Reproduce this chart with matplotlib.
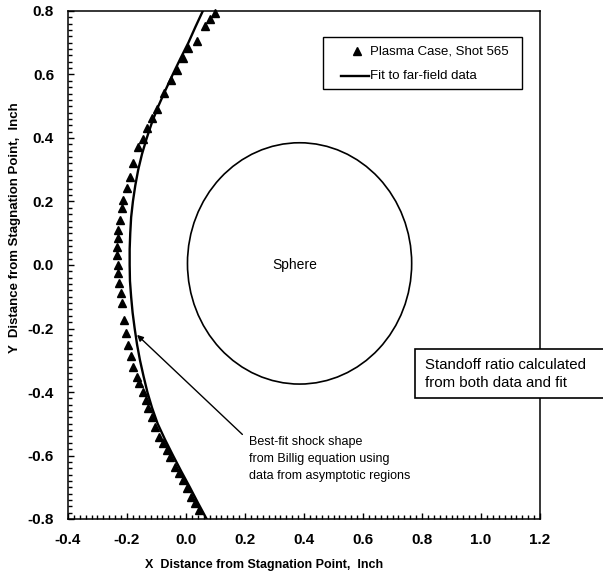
import matplotlib
matplotlib.use("Agg")
import matplotlib.pyplot as plt
from matplotlib.patches import Rectangle, Circle
from matplotlib.lines import Line2D
from matplotlib.ticker import MultipleLocator

plt.rcParams['font.family'] = ['Liberation Sans', 'DejaVu Sans']

# shock data points (Plasma Case, Shot 565)
data_x = [0.098, 0.081, 0.064, 0.036, 0.008, -0.011, -0.032, -0.052, -0.073,
          -0.099, -0.116, -0.133, -0.147, -0.162, -0.179, -0.190, -0.199,
          -0.212, -0.218, -0.224, -0.229, -0.232, -0.233, -0.233, -0.232,
          -0.229, -0.226, -0.221, -0.218, -0.210, -0.203, -0.196, -0.187,
          -0.179, -0.167, -0.158, -0.147, -0.137, -0.128, -0.116, -0.105,
          -0.090, -0.077, -0.065, -0.054, -0.037, -0.024, -0.011, 0.002,
          0.016, 0.031, 0.045]
data_y = [0.793, 0.774, 0.753, 0.707, 0.682, 0.651, 0.614, 0.583, 0.541,
          0.490, 0.462, 0.430, 0.396, 0.373, 0.320, 0.278, 0.241,
          0.205, 0.179, 0.142, 0.110, 0.084, 0.058, 0.031, 0.000,
          -0.026, -0.058, -0.089, -0.121, -0.173, -0.213, -0.252, -0.287,
          -0.320, -0.352, -0.373, -0.399, -0.425, -0.451, -0.478, -0.509,
          -0.541, -0.562, -0.583, -0.604, -0.635, -0.656, -0.677, -0.703,
          -0.730, -0.751, -0.772]

# fit to far-field data
fit_y = [0.80, 0.75, 0.70, 0.65, 0.60, 0.55, 0.50, 0.45, 0.40, 0.35, 0.30,
         0.25, 0.20, 0.15, 0.10, 0.05, 0.00, -0.05, -0.10, -0.15, -0.20,
         -0.25, -0.30, -0.35, -0.40, -0.45, -0.50, -0.55, -0.60, -0.65,
         -0.70, -0.75, -0.80]
fit_x = [0.057, 0.032, 0.008, -0.019, -0.045, -0.070, -0.094, -0.115, -0.133,
         -0.149, -0.162, -0.172, -0.180, -0.186, -0.189, -0.191, -0.191,
         -0.190, -0.186, -0.181, -0.174, -0.166, -0.156, -0.144, -0.131,
         -0.115, -0.096, -0.071, -0.044, -0.016, 0.013, 0.041, 0.070]

# sphere
sphere_center = (0.385, 0.005)
sphere_radius = 0.38

W, H = 603, 577
fig = plt.figure(figsize=(W / 100, H / 100), dpi=100)
ax = fig.add_axes([68 / W, 1 - 519 / H, (540 - 68) / W, (519 - 11) / H])

ax.plot(data_x, data_y, linestyle='none', marker='^', color='black',
        markersize=6, clip_on=False)
ax.plot(fit_x, fit_y, color='black', lw=1.7)

ax.add_patch(Circle(sphere_center, sphere_radius, fill=False,
                    edgecolor='black', lw=1.2))
ax.text(0.37, 0.0, 'Sphere', fontsize=10, ha='center', va='center')

ax.set_xlim(-0.4, 1.2)
ax.set_ylim(-0.8, 0.8)
ax.xaxis.set_major_locator(MultipleLocator(0.2))
ax.xaxis.set_minor_locator(MultipleLocator(0.02))
ax.yaxis.set_major_locator(MultipleLocator(0.2))
ax.yaxis.set_minor_locator(MultipleLocator(0.02))
ax.xaxis.set_major_formatter(lambda v, p: f'{v:.1f}')
ax.yaxis.set_major_formatter(lambda v, p: f'{v:.1f}')
ax.tick_params(which='both', direction='in', top=False, right=False, width=1)
ax.tick_params(which='major', length=4, pad=10, labelsize=11)
ax.tick_params(which='minor', length=2.8)
for lab in ax.get_xticklabels() + ax.get_yticklabels():
    lab.set_fontweight('bold')
for s in ax.spines.values():
    s.set_linewidth(1.1)

fig.text(264 / W, 1 - 565 / H, 'X  Distance from Stagnation Point,  Inch',
         fontsize=9, fontweight='bold', ha='center', va='center')
fig.text(15 / W, 1 - 228 / H, 'Y  Distance from Stagnation Point,  Inch',
         fontsize=9.5, fontweight='bold', ha='center', va='center', rotation=90)

# legend box, drawn by hand to match the original placement
def fx(px):
    return px / W

def fy(py):
    return 1 - py / H

fig.patches.append(Rectangle((fx(323), fy(89)), fx(522) - fx(323), fy(37) - fy(89),
                             transform=fig.transFigure, facecolor='white',
                             edgecolor='black', lw=1.0, zorder=5))
fig.lines.append(Line2D([fx(357)], [fy(51)], marker='^', color='black',
                        markersize=6, linestyle='none',
                        transform=fig.transFigure, zorder=6))
fig.lines.append(Line2D([fx(341), fx(369)], [fy(76), fy(76)], color='black',
                        lw=1.7, transform=fig.transFigure, zorder=6))
fig.text(fx(370), fy(51), 'Plasma Case, Shot 565', fontsize=9.5,
         ha='left', va='center', zorder=6)
fig.text(fx(370), fy(76), 'Fit to far-field data', fontsize=9.5,
         ha='left', va='center', zorder=6)

ax.annotate('Best-fit shock shape\nfrom Billig equation using\ndata from asymptotic regions',
            xy=(-0.166, -0.220), xytext=(0.213, -0.538),
            fontsize=9, ha='left', va='top', linespacing=1.55,
            arrowprops=dict(arrowstyle='-|>', color='black', lw=1.0,
                            shrinkA=0, shrinkB=0,
                            relpos=(-0.04, 1.03)))

fig.patches.append(Rectangle((fx(415), fy(398)), fx(610) - fx(415), fy(349) - fy(398),
                             transform=fig.transFigure, facecolor='white',
                             edgecolor='black', lw=1.2, zorder=5))
fig.text(fx(425), fy(374), 'Standoff ratio calculated\nfrom both data and fit',
         fontsize=10.8, ha='left', va='center', zorder=6, linespacing=1.3)

fig.savefig('out.png', dpi=100)
